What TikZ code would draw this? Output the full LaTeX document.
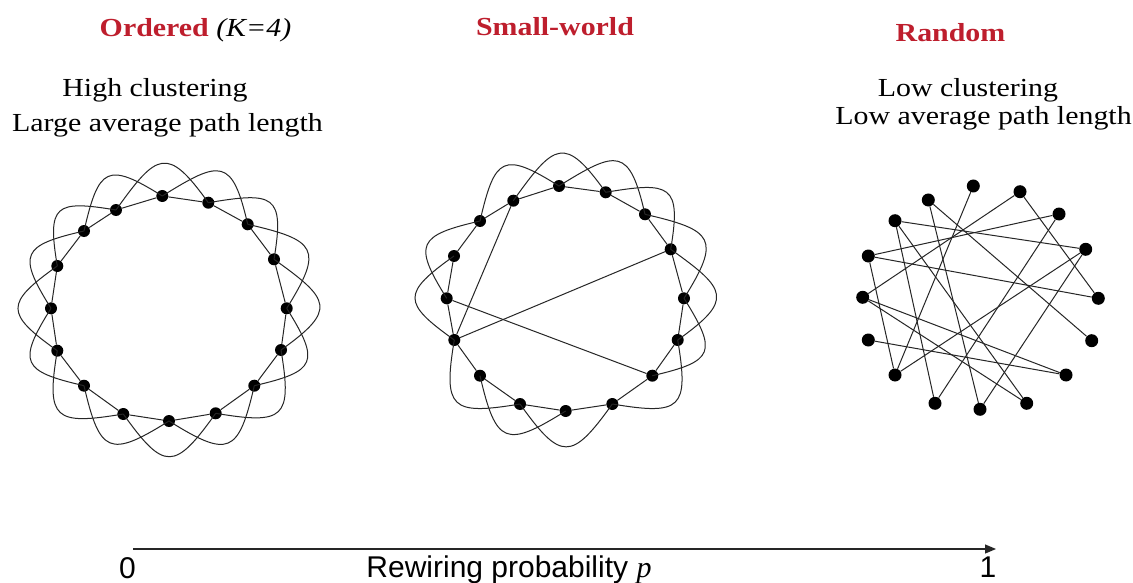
\documentclass[tikz,border=0pt]{standalone}
\usepackage{fontspec}
\usepackage{graphicx}
\setmainfont{Liberation Serif}
\newfontfamily\arialf{Liberation Sans}
\usetikzlibrary{arrows.meta}
\definecolor{titlered}{RGB}{190,30,45}
\begin{document}
\begin{tikzpicture}[x=1pt,y=1pt,
  dot/.style={circle,fill=black,inner sep=0pt,minimum size=12pt},
  rdot/.style={circle,fill=black,inner sep=0pt,minimum size=13pt},
  edge/.style={draw=black!85,line width=1pt},
  lbl/.style={inner sep=0pt,anchor=base,font=\fontsize{26}{30}\selectfont},
  ttl/.style={inner sep=0pt,anchor=base,text=titlered,font=\fontsize{26}{30}\selectfont\bfseries},
  axl/.style={inner sep=0pt,font=\fontsize{30}{33}\selectfont\arialf},
]
\fill[white] (0,0) rectangle (1133,-583);
\useasboundingbox (0,0) rectangle (1133,-583);

% ---------- texts ----------
\node[ttl] (t1) at (195.5,-37) {\scalebox{1.15}[1]{Ordered \textcolor{black}{\normalfont\itshape(K=4)}}};
\node[ttl] (t2) at (555,-36) {\scalebox{1.15}[1]{Small-world}};
\node[ttl] (t3) at (950.5,-42) {\scalebox{1.15}[1]{Random}};
\node[lbl] (l1) at (155,-97) {\scalebox{1.15}[1]{High clustering}};
\node[lbl] (l2) at (167.5,-132) {\scalebox{1.15}[1]{Large average path length}};
\node[lbl] (l3) at (968,-97) {\scalebox{1.15}[1]{Low clustering}};
\node[lbl] (l4) at (983.5,-125) {\scalebox{1.15}[1]{Low average path length}};

% ---------- ordered ----------
\foreach \n/\x/\y in {1/162.3/196,2/208.3/202.7,3/247.7/224.3,4/274/259.3,5/286.7/308.3,6/281/350,7/254.3/385.7,8/215.7/413.3,9/169/421,10/123.3/414,11/84/385.7,12/57.3/350.7,13/51/308.3,14/57.3/266,15/84/231,16/116/210}
  \node[dot] (O\n) at (\x,-\y) {};
\foreach \i in {1,...,16}{
  \pgfmathtruncatemacro\j{mod(\i,16)+1}
  \pgfmathtruncatemacro\k{mod(\i+1,16)+1}
  \pgfmathsetmacro\ao{90-22.5*(\i-1)-58}
  \pgfmathsetmacro\ai{90-22.5*(\i-1)+13}
  \draw[edge] (O\i) -- (O\j);
  \draw[edge] (O\i.center) to[out=\ao,in=\ai,looseness=1.95] (O\k.center);
}

% ---------- small-world ----------
\foreach \n/\x/\y in {1/559/186,2/605.7/192.3,3/645/214.3,4/670.7/249.3,5/684/298.3,6/677.7/340,7/652.3/375.7,8/612.3/404,9/565.7/411,10/520/404,11/480/375.7,12/454.3/340,13/446.7/298.3,14/454/256,15/480/221,16/513.3/200.7}
  \node[dot] (S\n) at (\x,-\y) {};
\foreach \i in {1,...,16}{
  \pgfmathtruncatemacro\j{mod(\i,16)+1}
  \draw[edge] (S\i) -- (S\j);
}
\foreach \i in {1,2,3,4,5,6,8,9,10,12,13,15,16}{
  \pgfmathtruncatemacro\k{mod(\i+1,16)+1}
  \pgfmathsetmacro\ao{90-22.5*(\i-1)-58}
  \pgfmathsetmacro\ai{90-22.5*(\i-1)+13}
  \draw[edge] (S\i.center) to[out=\ao,in=\ai,looseness=1.95] (S\k.center);
}
\draw[edge] (S16) -- (S12);
\draw[edge] (S12) -- (S4);
\draw[edge] (S13) -- (S7);

% ---------- random ----------
\foreach \n/\x/\y in {A/973.3/186,B/1020/191.7,C/928.3/200,D/1059/214,E/895/220.7,F/1085.7/249.3,G/868.3/256,H/1098.3/298.3,I/862.7/297.3,J/1091.7/340.7,K/868.3/340,L/1066/375,M/895/375,N/935/403.3,O/980/409.3,P/1026.7/403.3}
  \node[rdot] (R\n) at (\x,-\y) {};
\foreach \a/\b in {A/M,B/I,B/H,C/J,C/O,E/F,E/N,E/P,G/D,G/H,G/M,I/L,I/P,K/L,D/N,F/O,F/M}
  \draw[edge] (R\a) -- (R\b);

% ---------- axis ----------
\coordinate (ax1) at (133,-549);
\coordinate (ax2) at (996,-549);
\draw[black!85,line width=1.2pt,-{Triangle[length=11pt,width=9pt]}] (ax1) -- (ax2);
\node[axl] (z0) at (127.5,-568) {0};
\node[axl] (rp) at (509,-570) {Rewiring probability \textit{\rmfamily p}};
\node[axl] (z1) at (988,-567) {1};
\end{tikzpicture}
\end{document}
